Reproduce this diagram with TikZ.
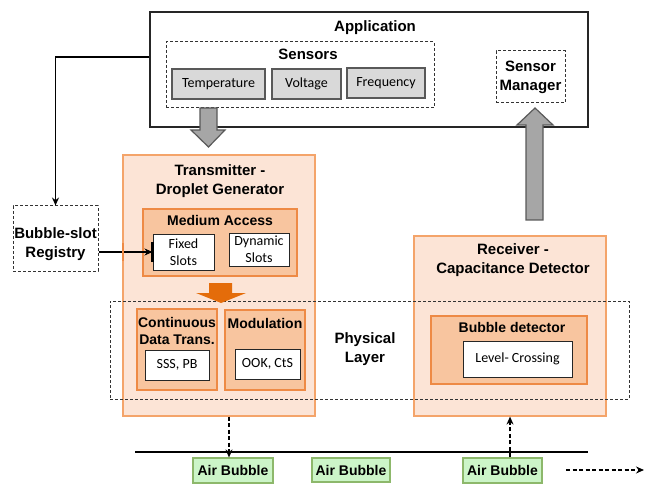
\documentclass[tikz,border=0pt]{standalone}
\usepackage{fontspec}
\setmainfont{Liberation Sans}
\newfontfamily\calib{Carlito}
\usetikzlibrary{arrows.meta}
\definecolor{txfill}{HTML}{FCE4D6}
\definecolor{txline}{HTML}{F4A46A}
\definecolor{infill}{HTML}{F8C59F}
\definecolor{inline}{HTML}{EE8A45}
\definecolor{grfill}{HTML}{CCF5C8}
\definecolor{grline}{HTML}{8DB86B}
\definecolor{gyfill}{HTML}{D9D9D9}
\definecolor{gyline}{HTML}{595959}
\definecolor{arrgray}{HTML}{A6A6A6}
\definecolor{arrorange}{HTML}{E46C0A}
\begin{document}
\begin{tikzpicture}[x=1pt,y=-1pt,
  box/.style={draw, rectangle, inner sep=0pt},
  dbox/.style={draw=black!80, rectangle, inner sep=0pt, dash pattern=on 3pt off 2pt, line width=1pt},
  title/.style={font=\fontsize{15}{19}\selectfont\bfseries, align=center, inner sep=0pt},
  subtitle/.style={font=\fontsize{14}{17}\selectfont\bfseries, align=center, inner sep=0pt},
  sensbox/.style={box, fill=gyfill, draw=gyline, line width=1.2pt, font=\calib\fontsize{14}{16}\selectfont},
  whitebox/.style={box, fill=white, draw=black!85, line width=1pt, font=\calib\fontsize{14}{17}\selectfont, align=center},
  outerbox/.style={box, fill=txfill, draw=txline, line width=1.2pt},
  innerbox/.style={box, fill=infill, draw=inline, line width=1.2pt},
  bubble/.style={box, fill=grfill, draw=grline, line width=1.2pt, font=\fontsize{14}{16}\selectfont\bfseries},
  conn/.style={line width=1.3pt, -{Stealth[length=8pt,width=7pt]}},
  dconn/.style={line width=1.3pt, dash pattern=on 4pt off 2.5pt, -{Stealth[length=8pt,width=7pt]}},
  blockgray/.style={fill=arrgray, draw=gyline, line width=1.2pt}
]
\useasboundingbox (0,0) rectangle (645,489);

% Application
\node[box, draw=black!85, line width=1.2pt, minimum width=438pt, minimum height=115pt] (app) at (369,69.5) {};
\node[title] (apptitle) at (375,28) {Application};
\node[dbox, minimum width=268pt, minimum height=66pt] (sensors) at (300,75) {};
\node[title] (senstitle) at (308,54) {Sensors};
\node[sensbox, minimum width=93pt, minimum height=30pt] (temp) at (218.5,84) {Temperature};
\node[sensbox, minimum width=69pt, minimum height=30pt] (volt) at (306.5,84) {Voltage};
\node[sensbox, minimum width=78pt, minimum height=30pt] (freq) at (386,83) {Frequency};
\node[dbox, minimum width=69pt, minimum height=52pt, font=\fontsize{15}{19}\selectfont\bfseries, align=center] (sman) at (530.5,77) {Sensor\\Manager};

% Registry
\node[dbox, minimum width=85pt, minimum height=65pt] (reg) at (55.5,238.5) {};
\node[title] (regtitle) at (55.5,244) {Bubble-slot\\Registry};

% Transmitter
\node[outerbox, minimum width=192pt, minimum height=261pt] (tx) at (219,285.5) {};
\node[title] (txtitle) at (220,181.5) {Transmitter -\\Droplet Generator};
\node[innerbox, minimum width=154pt, minimum height=67pt] (mac) at (220,242.5) {};
\node[subtitle] (mactitle) at (220,220) {Medium Access};
\node[whitebox, minimum width=61pt, minimum height=36pt] (fixed) at (183.5,252) {Fixed\\Slots};
\node[whitebox, minimum width=60pt, minimum height=33pt] (dyn) at (259,249.5) {Dynamic\\Slots};

% Receiver
\node[outerbox, minimum width=192pt, minimum height=180pt] (rx) at (510,326) {};
\node[title] (rxtitle) at (513,260) {Receiver -\\Capacitance Detector};

% Physical layer
\node[dbox, minimum width=519pt, minimum height=98pt] (phys) at (369.5,350) {};
\node[title] (phystitle) at (365,349.5) {Physical\\Layer};

\node[innerbox, minimum width=80pt, minimum height=81pt] (cont) at (177,349.5) {};
\node[subtitle] (conttitle) at (177,330.5) {Continuous\\Data Trans.};
\node[whitebox, minimum width=64pt, minimum height=30pt] (sss) at (177,365) {SSS, PB};
\node[innerbox, minimum width=80pt, minimum height=80pt] (mod) at (265,350) {};
\node[subtitle] (modtitle) at (265,323) {Modulation};
\node[whitebox, minimum width=65pt, minimum height=30pt] (ook) at (267.5,364) {OOK, CtS};

\node[innerbox, minimum width=156pt, minimum height=68pt] (bdet) at (509,350) {};
\node[subtitle] (bdettitle) at (512,327) {Bubble detector};
\node[whitebox, minimum width=109pt, minimum height=36pt] (lc) at (517.5,359) {Level- Crossing};

% Channel
\coordinate (lineL) at (135,452);
\coordinate (lineR) at (588,452);
\draw[line width=1.5pt] (lineL) -- (lineR);
\node[bubble, minimum width=80pt, minimum height=25pt] (ab1) at (233,470.5) {Air Bubble};
\node[bubble, minimum width=78pt, minimum height=24pt] (ab2) at (351,470) {Air Bubble};
\node[bubble, minimum width=79pt, minimum height=25pt] (ab3) at (502.5,470.5) {Air Bubble};

% Block arrows
\fill[blockgray] (200,108) -- (217,108) -- (217,130) -- (225,130) -- (208.5,147) -- (191,130) -- (200,130) -- cycle;
\fill[blockgray] (526,220) -- (543,220) -- (543,125) -- (553,125) -- (535,108) -- (517,125) -- (526,125) -- cycle;
\fill[arrorange] (209,283) -- (232,283) -- (232,293) -- (246,293) -- (221,303) -- (196,293) -- (209,293) -- cycle;

% Connectors
\draw[conn] ([yshift=12.5pt]app.west) -| (reg.north);
\draw[conn] (reg.east |- fixed.west) -- (fixed.west);
\draw[line width=2.2pt] ([yshift=10pt]fixed.west) -- ([yshift=-10pt]fixed.west);
\draw[line width=2.5pt, draw=inline] (123,243) -- (123,261);
\draw[dconn] (tx.south -| 229,0) -- (ab1.north -| 229,0);
\draw[dconn] (ab3.north -| 510,0) -- (rx.south -| 510,0);
\coordinate (flowA) at (566,470);
\coordinate (flowB) at (644,470);
\draw[dconn] (flowA) -- (flowB);
\end{tikzpicture}
\end{document}
